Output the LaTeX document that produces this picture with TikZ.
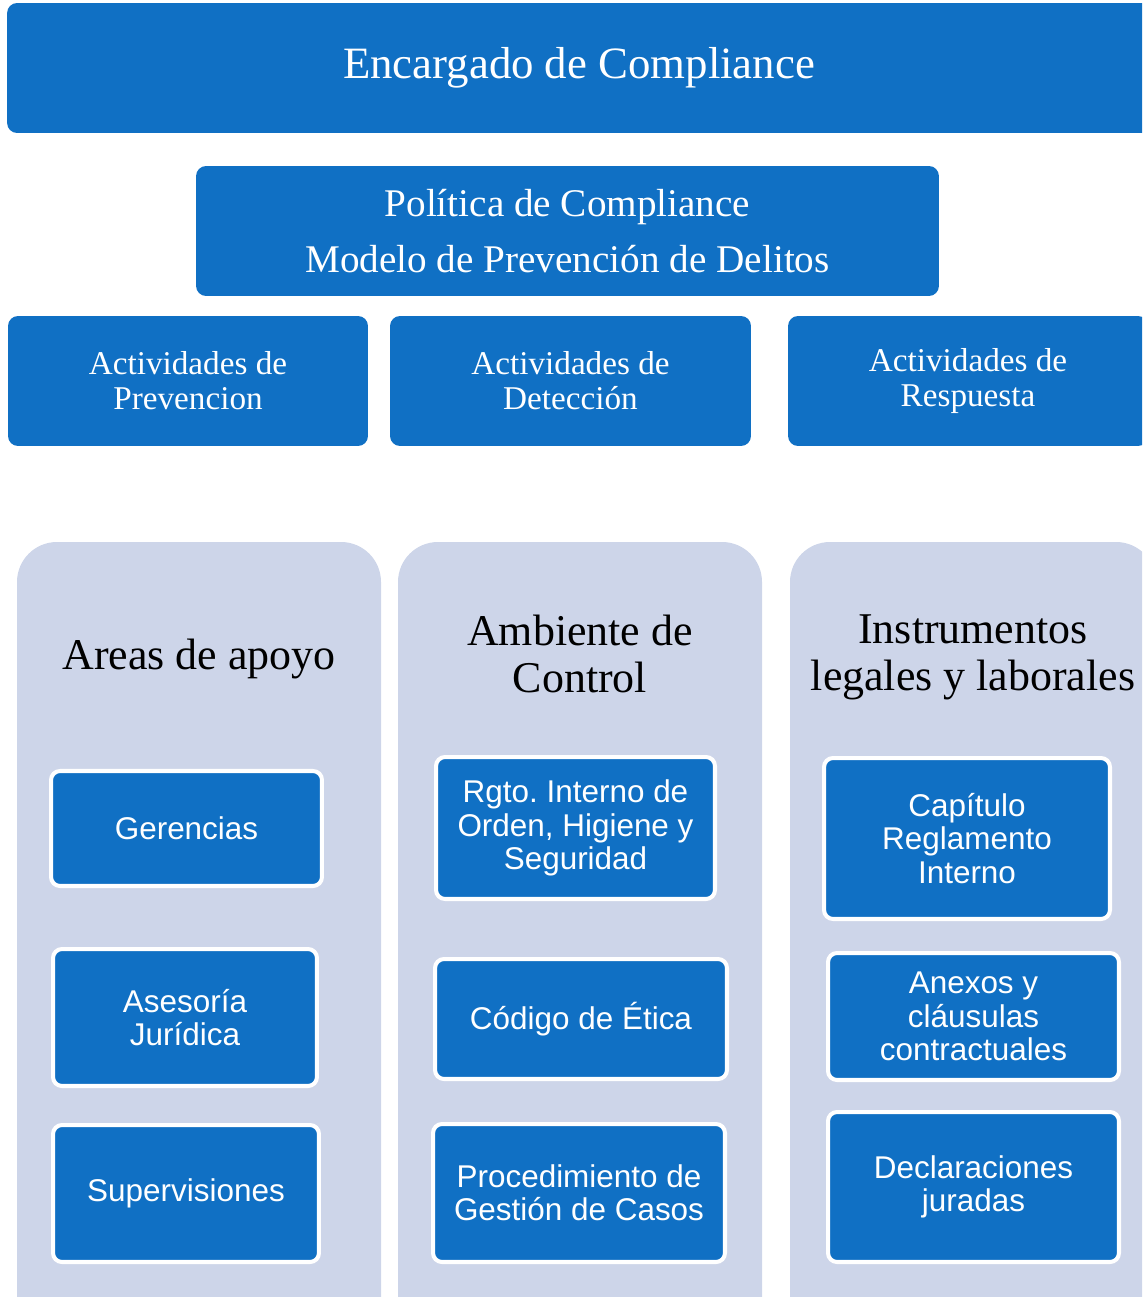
\documentclass[tikz,border=0pt]{standalone}
\usepackage{fontspec}
\setmainfont{Liberation Serif}
\setsansfont{Liberation Sans}
\definecolor{azul}{RGB}{16,112,196}
\definecolor{gris}{RGB}{205,213,233}
\frenchspacing

\begin{document}
\begin{tikzpicture}[x=0.02cm,y=-0.02cm,
		titulo/.style={fill=azul,rounded corners=0.2cm,text=white,align=center,inner sep=0pt,minimum height=2.6cm},
		fondo/.style={fill=gris,rounded corners=0.8cm},
		encabezado/.style={align=center,inner sep=0pt,font=\fontsize{25}{26.6}\selectfont},
		caja/.style={fill=azul,draw=white,line width=2.3pt,rounded corners=0.18cm,text=white,align=center,inner sep=0pt,font=\sffamily\fontsize{17.9}{19}\selectfont}]
		\useasboundingbox (0,0) rectangle (1142,1297);
		\clip (0,0) rectangle (1142,1297);
		
		% cabeceras
		\node[titulo,minimum width=22.88cm,font=\fontsize{25.5}{30}\selectfont] (encargado) at (579,68) {Encargado de Compliance};
		\node[titulo,minimum width=14.86cm,font=\fontsize{22.3}{31.7}\selectfont] (politica) at (567.5,231) {Política de Compliance\\Modelo de Prevención de Delitos};
		\node[titulo,minimum width=7.2cm,font=\fontsize{18.9}{19.8}\selectfont] (prevencion) at (188,381) {Actividades de\\Prevencion};
		\node[titulo,minimum width=7.22cm,font=\fontsize{18.9}{19.8}\selectfont] (deteccion) at (570.5,381) {Actividades de\\Detección};
		\node[titulo,minimum width=7.2cm,font=\fontsize{18.9}{19.8}\selectfont] (respuesta) at (968,381) {Actividades de\\Respuesta};
		
		% columnas
		\fill[fondo] (17,542) rectangle (381,1340);
		\fill[fondo] (398,542) rectangle (762,1340);
		\fill[fondo] (790,542) rectangle (1156,1340);
		
		\node[encabezado] (apoyo) at (199,659) {Areas de apoyo};
		\node[encabezado] (ambiente) at (580,654) {Ambiente de\\Control};
		\node[encabezado] (instrumentos) at (973,657) {Instrumentos\\legales y laborales};
		
		\node[caja,minimum width=5.42cm,minimum height=2.3cm] (gerencias) at (186.5,828.5) {Gerencias};
		\node[caja,minimum width=5.28cm,minimum height=2.74cm] (asesoria) at (185,1017.5) {Asesoría\\Jurídica};
		\node[caja,minimum width=5.32cm,minimum height=2.74cm] (supervisiones) at (186,1193.5) {Supervisiones};
		
		\node[caja,minimum width=5.58cm,minimum height=2.84cm] (rgto) at (575.5,828) {Rgto. Interno de\\Orden, Higiene y\\Seguridad};
		\node[caja,minimum width=5.84cm,minimum height=2.4cm] (codigo) at (581,1019) {Código de Ética};
		\node[caja,minimum width=5.84cm,minimum height=2.76cm] (procedimiento) at (579,1193) {Procedimiento de\\Gestión de Casos};
		
		\node[caja,minimum width=5.72cm,minimum height=3.22cm] (capitulo) at (967,838.5) {Capítulo\\Reglamento\\Interno};
		\node[caja,minimum width=5.82cm,minimum height=2.54cm] (anexos) at (973.5,1016.5) {Anexos y\\cláusulas\\contractuales};
		\node[caja,minimum width=5.82cm,minimum height=3cm] (declaraciones) at (973.5,1187) {Declaraciones\\juradas};
	\end{tikzpicture}
\end{document}
